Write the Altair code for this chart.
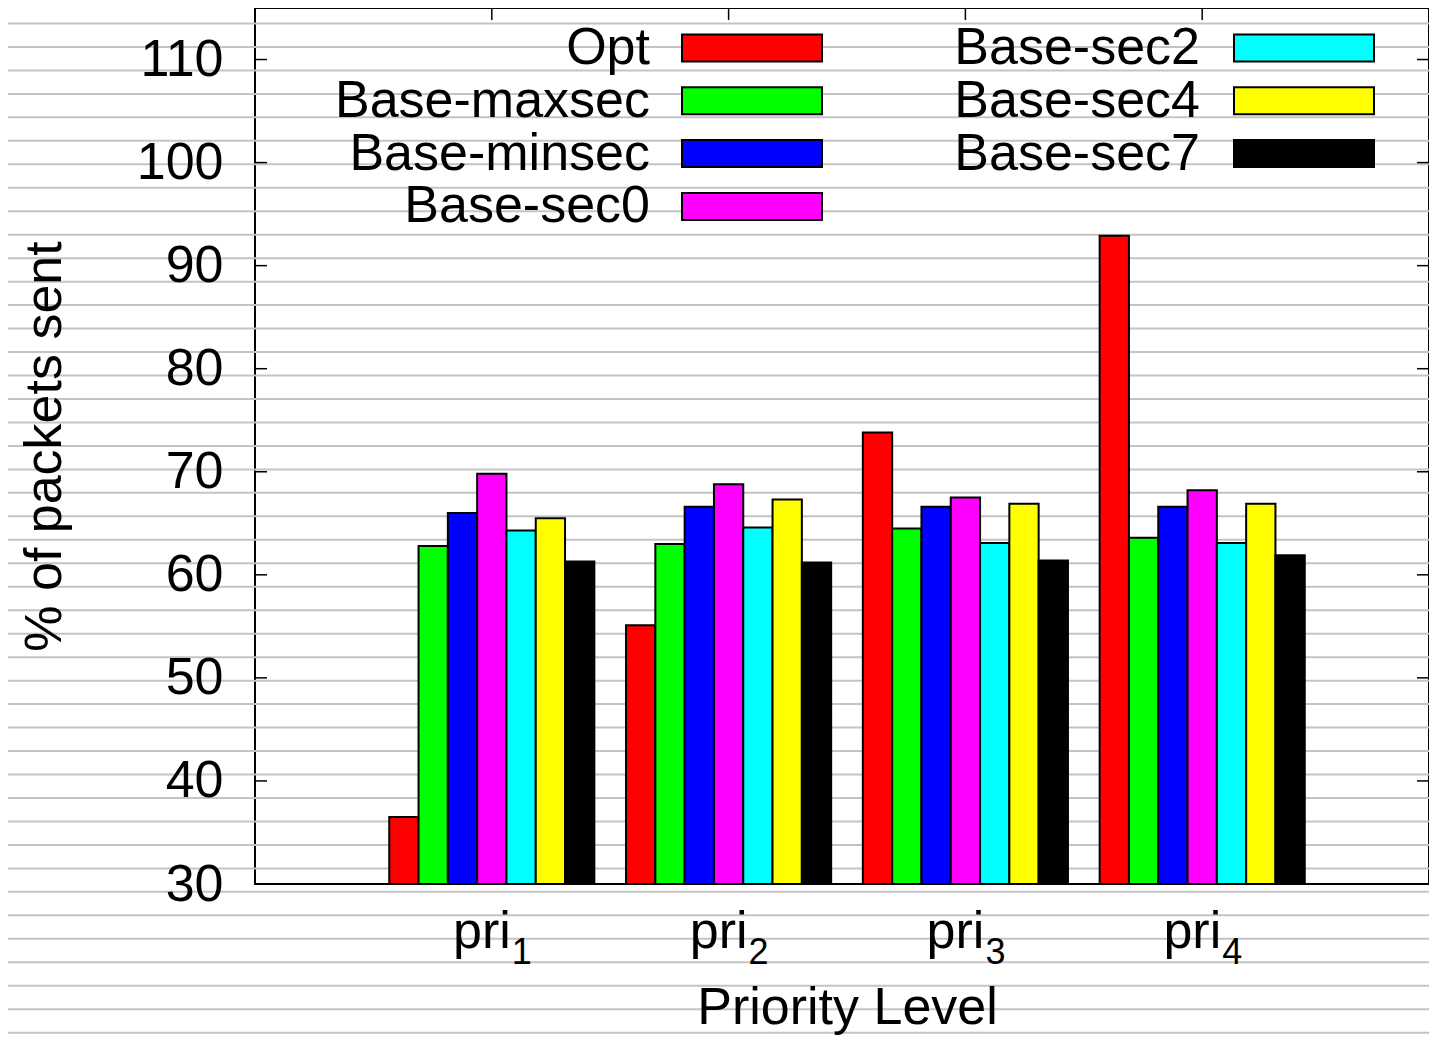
import altair as alt
import pandas as pd

# ---------------- data ----------------
SERIES = ["Opt", "Base-maxsec", "Base-minsec", "Base-sec0", "Base-sec2", "Base-sec4", "Base-sec7"]
COLORS = ["#ff0000", "#00ff00", "#0000ff", "#ff00ff", "#00ffff", "#ffff00", "#000000"]
CAT_BASE = "pri"
CAT_SUBS = ["1", "2", "3", "4"]
PRI1 = [36.5, 62.8, 66.0, 69.8, 64.3, 65.5, 61.3]
PRI2 = [55.1, 63.0, 66.6, 68.8, 64.6, 67.3, 61.2]
PRI3 = [73.8, 64.5, 66.6, 67.5, 63.1, 66.9, 61.4]
PRI4 = [92.9, 63.6, 66.6, 68.2, 63.1, 66.9, 61.9]
Y_TICKS = [30, 40, 50, 60, 70, 80, 90, 100, 110]
Y_TITLE = "% of packets sent"
X_TITLE = "Priority Level"

FONT = "Liberation Sans"
SVG_W, SVG_H = 1421, 1029
PAD_L = 247
W, H = SVG_W - PAD_L, 876
PAD_B = SVG_H - H
PX_PER_UNIT = 236.8
X_MAX = -1 + W / PX_PER_UNIT
BW = 29.3 / PX_PER_UNIT  # bar width in x units

rows = []
for ci, vals in enumerate([PRI1, PRI2, PRI3, PRI4]):
    for si, v in enumerate(vals):
        rows.append({"cat": ci, "sidx": si, "series": SERIES[si], "value": v})
bars_df = pd.DataFrame(rows)
cats_df = pd.DataFrame({"cat": list(range(len(CAT_SUBS))), "base": CAT_BASE, "sub": CAT_SUBS})
ticks_df = pd.DataFrame({"value": Y_TICKS})
leg_df = pd.DataFrame({"series": SERIES, "sidx": list(range(len(SERIES)))})

xscale = alt.Scale(domain=[-1, X_MAX], nice=False, zero=False)
yscale = alt.Scale(domain=[30, 115], nice=False, zero=False)
cscale = alt.Scale(domain=SERIES, range=COLORS)

xaxis = alt.Axis(labels=False, ticks=False, domain=False, grid=False, zindex=1,
                 title=X_TITLE, titleFont=FONT, titleFontSize=52, titleFontWeight="normal",
                 titleColor="black", titleX=(847 - 255), titleY=139, titleAlign="center",
                 titleBaseline="alphabetic")
yaxis = alt.Axis(values=Y_TICKS, ticks=False, tickSize=0, domain=False, grid=False, zindex=1,
                 labelFont=FONT, labelFontSize=52, labelColor="black", labelPadding=32,
                 title=Y_TITLE, titleFont=FONT, titleFontSize=52, titleFontWeight="normal",
                 titleColor="black", titleX=-195, titleY=H / 2, titleAngle=270,
                 titleAlign="center", titleBaseline="alphabetic")

# background stripes (decoration)
stripes = alt.Chart(alt.sequence(0, 45, as_="k")).transform_calculate(
    py="datum.k * 23.47 - 8"
).mark_rule(color="#c4c4c4", strokeWidth=2).encode(
    y=alt.Y("py:Q", scale=None),
    x=alt.value(-PAD_L),
    x2=alt.value(W),
)

bars = alt.Chart(bars_df).transform_calculate(
    xs=f"datum.cat + (datum.sidx - 3.5) * {BW}",
    xe=f"datum.cat + (datum.sidx - 2.5) * {BW}",
    base="30",
).mark_bar(stroke="black", strokeWidth=2).encode(
    x=alt.X("xs:Q", scale=xscale, axis=xaxis),
    x2="xe:Q",
    y=alt.Y("value:Q", scale=yscale, axis=yaxis),
    y2="base:Q",
    color=alt.Color("series:N", scale=cscale, legend=None),
)

left_ticks = alt.Chart(ticks_df).mark_rule(color="black", strokeWidth=1.5).encode(
    y=alt.Y("value:Q", scale=yscale, axis=yaxis), x=alt.value(0), x2=alt.value(12))
right_ticks = alt.Chart(ticks_df).mark_rule(color="black", strokeWidth=1.5).encode(
    y=alt.Y("value:Q", scale=yscale, axis=yaxis), x=alt.value(W - 12), x2=alt.value(W))
top_ticks = alt.Chart(cats_df).transform_calculate(xs="datum.cat").mark_rule(
    color="black", strokeWidth=1.5).encode(
    x=alt.X("xs:Q", scale=xscale, axis=xaxis), y=alt.value(0), y2=alt.value(12))

cat_main = alt.Chart(cats_df).transform_calculate(xs="datum.cat").mark_text(
    font=FONT, fontSize=52, align="right", baseline="alphabetic", dx=19, color="black"
).encode(x=alt.X("xs:Q", scale=xscale, axis=xaxis), y=alt.value(940), text="base:N")
cat_sub = alt.Chart(cats_df).transform_calculate(xs="datum.cat").mark_text(
    font=FONT, fontSize=36, align="left", baseline="alphabetic", dx=20, color="black"
).encode(x=alt.X("xs:Q", scale=xscale, axis=xaxis), y=alt.value(956), text="sub:N")

# legend (two columns, label left of swatch)
leg_base = alt.Chart(leg_df).transform_calculate(
    col="datum.sidx < 4 ? 0 : 1",
    row="datum.sidx < 4 ? datum.sidx : datum.sidx - 4",
).transform_calculate(
    tx="395 + datum.col * 550",
    rx0="427 + datum.col * 552",
    rx1="567 + datum.col * 552",
    ty="40 + datum.row * 52.8",
    ry0="26.5 + datum.row * 52.8",
    ry1="53.5 + datum.row * 52.8",
)
leg_text = leg_base.mark_text(font=FONT, fontSize=52, align="right", baseline="middle",
                              color="black").encode(
    x=alt.X("tx:Q", scale=None), y=alt.Y("ty:Q", scale=None), text="series:N")
leg_rect = leg_base.mark_rect(stroke="black", strokeWidth=2).encode(
    x=alt.X("rx0:Q", scale=None), x2="rx1:Q",
    y=alt.Y("ry0:Q", scale=None), y2="ry1:Q",
    color=alt.Color("series:N", scale=cscale, legend=None))

chart = alt.layer(
    stripes, bars, left_ticks, right_ticks, top_ticks, cat_main, cat_sub, leg_rect, leg_text
).properties(
    width=W, height=H,
    autosize=alt.AutoSizeParams(type="none"),
    padding={"left": PAD_L, "top": 0, "right": 0, "bottom": PAD_B},
    background="white",
).configure_view(stroke="black", strokeWidth=2, fill="white")

chart.save("out.html", embed_options={"renderer": "svg", "actions": False})
